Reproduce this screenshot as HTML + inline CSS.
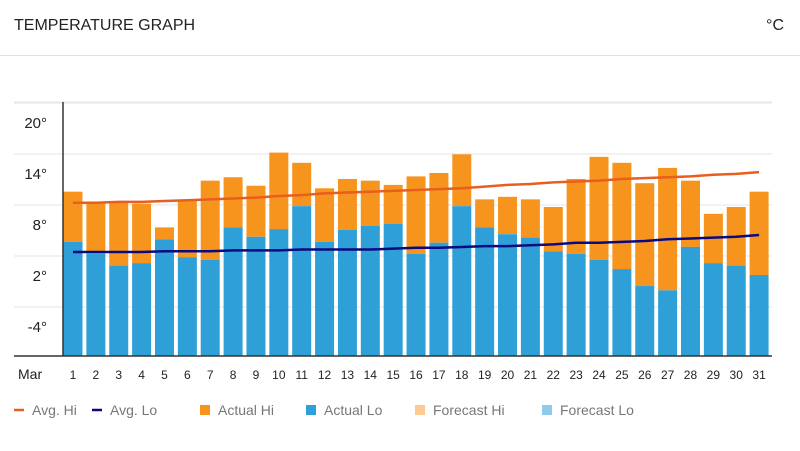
<!DOCTYPE html>
<html><head><meta charset="utf-8"><style>
body{margin:0;width:800px;height:451px;background:#fff;font-family:"Liberation Sans",sans-serif;overflow:hidden;position:relative}
#title{position:absolute;left:14px;top:17px;font-size:16px;color:#222}
#unit{position:absolute;right:16px;top:17px;font-size:16px;color:#222}
#hr{position:absolute;left:0;top:55px;width:800px;height:1px;background:#e3e3e3}
svg{position:absolute;left:0;top:0}
text{font-family:"Liberation Sans",sans-serif;fill:#222}
</style></head><body>
<div id="title">TEMPERATURE GRAPH</div>
<div id="unit">°C</div>
<div id="hr"></div>
<svg id="c" width="800" height="451"></svg>
<script>
const days=[1,2,3,4,5,6,7,8,9,10,11,12,13,14,15,16,17,18,19,20,21,22,23,24,25,26,27,28,29,30,31];
const actualHi=[11.8,10.5,10.5,10.4,7.6,10.7,13.1,13.5,12.5,16.4,15.2,12.2,13.3,13.1,12.6,13.6,14.0,16.2,10.9,11.2,10.9,10.0,13.3,15.9,15.2,12.8,14.6,13.1,9.2,10.0,11.8];
const actualLo=[5.9,4.5,3.1,3.4,6.2,4.1,3.8,7.6,6.5,7.4,10.1,5.9,7.3,7.8,8.0,4.5,5.8,10.1,7.6,6.8,6.4,4.8,4.5,3.8,2.7,0.7,0.2,5.3,3.4,3.1,2.0];
const avgHi=[10.5,10.5,10.6,10.6,10.7,10.8,10.9,11.0,11.1,11.3,11.4,11.6,11.7,11.8,11.9,12.0,12.1,12.2,12.4,12.6,12.7,12.9,13.0,13.1,13.3,13.4,13.5,13.6,13.8,13.9,14.1];
const avgLo=[4.7,4.7,4.7,4.7,4.8,4.8,4.8,4.9,4.9,4.9,5.0,5.0,5.0,5.0,5.1,5.2,5.2,5.3,5.4,5.4,5.5,5.6,5.8,5.8,5.9,6.0,6.2,6.3,6.4,6.5,6.7];
const ticks=[20,14,8,2,-4];
const NS='http://www.w3.org/2000/svg',svg=document.getElementById('c');
const y=v=>122+(20-v)*8.5, yBase=356;
const x=i=>73+i*22.87;
function mk(t,a,p){const e=document.createElementNS(NS,t);for(const k in a)e.setAttribute(k,a[k]);(p||svg).appendChild(e);return e;}
ticks.forEach(t=>{
 const g=mk('line',{x1:14,x2:772,y1:y(t)-19,y2:y(t)-19,stroke:'#e6e6e6'});
 
 
 const l=mk('text',{x:47,y:y(t)+6,'text-anchor':'end','font-size':15});l.textContent=t+'°';
 
 
});
mk('line',{x1:14,x2:772,y1:102,y2:102,stroke:'#e6e6e6'});
days.forEach((d,i)=>{
 const hi=mk('rect',{x:x(i)-9.5,y:y(actualHi[i]),width:19,height:y(actualLo[i])-y(actualHi[i]),fill:'#f7941d'});
 
 
 const lo=mk('rect',{x:x(i)-9.5,y:y(actualLo[i]),width:19,height:yBase-y(actualLo[i]),fill:'#2f9fd8'});
 
 
 const t=mk('text',{x:x(i),y:379,'text-anchor':'middle','font-size':12});t.textContent=d;
 
 
});
const ah=mk('polyline',{points:avgHi.map((v,i)=>x(i)+','+y(v)).join(' '),fill:'none',stroke:'#e85e1e','stroke-width':2.5});


const al=mk('polyline',{points:avgLo.map((v,i)=>x(i)+','+y(v)).join(' '),fill:'none',stroke:'#0a0a80','stroke-width':2.5});


mk('line',{x1:63,x2:63,y1:102,y2:356,stroke:'#333','stroke-width':1.5});
mk('line',{x1:14,x2:772,y1:356,y2:356,stroke:'#333','stroke-width':1.5});
const m=mk('text',{x:18,y:379,'font-size':14});m.textContent='Mar';


const leg=[['Avg. Hi','#e85e1e','line'],['Avg. Lo','#0a0a80','line'],['Actual Hi','#f7941d','box'],['Actual Lo','#2f9fd8','box'],['Forecast Hi','#fbcb93','box'],['Forecast Lo','#8fcbeb','box']];
const lx=[14,92,200,306,415,542];
leg.forEach((L,i)=>{
 const g=mk('g',{});
 
 
 if(L[2]=='line')mk('line',{x1:lx[i],x2:lx[i]+10,y1:410,y2:410,stroke:L[1],'stroke-width':2.5},g);
 else mk('rect',{x:lx[i],y:405,width:10,height:10,fill:L[1]},g);
 const t=mk('text',{x:lx[i]+18,y:415,'font-size':14,fill:'#777'},g);t.textContent=L[0];t.style.fill='#777';
});
</script>
</body></html>
